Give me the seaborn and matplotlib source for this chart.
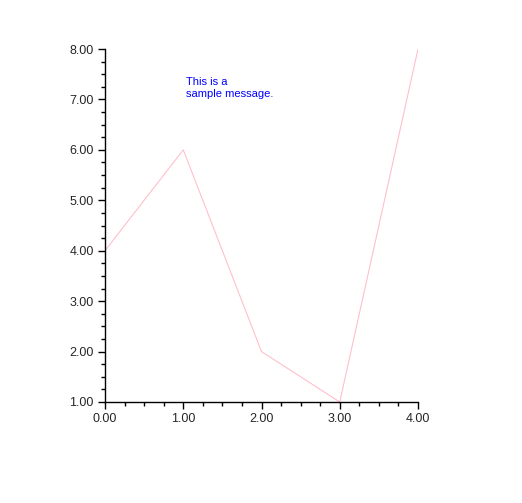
import numpy as np
import pandas as pd
import seaborn as sns
from matplotlib import pyplot as plt
from matplotlib.ticker import MultipleLocator, FormatStrFormatter

x_values = [0, 1, 2, 3, 4]
y_values = [4.0, 6.0, 2.0, 1.0, 8.0]
message = "This is a\nsample message."

sns.set_style("ticks")
plt.rcParams['font.family'] = ['Liberation Sans', 'DejaVu Sans']

df = pd.DataFrame({"x": x_values, "y": y_values})

fig = plt.figure(figsize=(5.22, 5.03), dpi=100)
ax = fig.add_axes([105 / 522, 1 - 402 / 503, 313 / 522, 353 / 503])
sns.lineplot(data=df, x="x", y="y", ax=ax, color="pink", linewidth=0.8)

ax.set_xlim(0, 4)
ax.set_ylim(1, 8)
ax.xaxis.set_major_locator(MultipleLocator(1))
ax.xaxis.set_minor_locator(MultipleLocator(0.25))
ax.yaxis.set_major_locator(MultipleLocator(1))
ax.yaxis.set_minor_locator(MultipleLocator(0.25))
ax.xaxis.set_major_formatter(FormatStrFormatter("%.2f"))
ax.yaxis.set_major_formatter(FormatStrFormatter("%.2f"))
ax.tick_params(which="major", length=5, width=1, color="black", labelsize=9, pad=3)
ax.tick_params(which="minor", length=3, width=1, color="black")
ax.set_xlabel("")
ax.set_ylabel("")
for side in ["top", "right"]:
    ax.spines[side].set_visible(False)
for side in ["left", "bottom"]:
    ax.spines[side].set_color("black")
    ax.spines[side].set_linewidth(1)

ax.text(1.03, 7.45, message, color="blue", fontsize=8, va="top", ha="left",
        linespacing=1.25)

fig.savefig("out.png", dpi=100)
